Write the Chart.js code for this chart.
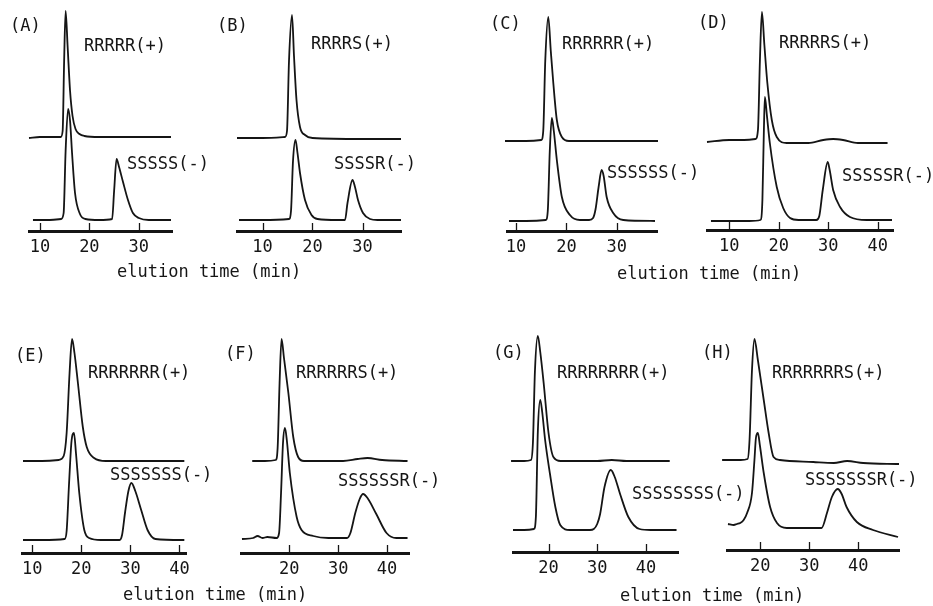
<!DOCTYPE html>
<html>
<head>
<meta charset="utf-8">
<script src="https://cdn.jsdelivr.net/npm/chart.js@4/dist/chart.umd.min.js"></script>
<style>
body { margin: 0; background: #fff; width: 933px; height: 606px; position: relative; overflow: hidden; font-family: "DejaVu Sans Mono", monospace; }
canvas { position: absolute; }
.lbl { position: absolute; font-size: 17px; line-height: 20px; height: 20px; white-space: nowrap; color: #151515; }
</style>
</head>
<body>
<script>
// elution time (min) and detector signal (arbitrary units)
const aTopX = [7.8, 10, 12, 14.2, 14.6, 14.9, 15.2, 15.6, 16.1, 16.6, 17.2, 18, 19, 22, 30, 36.5];
const aTopY = [93, 94, 94, 94, 100, 170, 220, 185, 140, 115, 102, 97, 95, 94, 94, 94];
const aBotX = [8.6, 12, 14.3, 14.8, 15.2, 15.7, 16.1, 16.5, 17.1, 18.1, 19.2, 22, 24.6, 25.0, 25.5, 26.0, 26.8, 27.8, 28.8, 30, 32, 36.5];
const aBotY = [11, 11, 12, 18, 80, 122, 110, 78, 38, 17, 12, 11, 12, 40, 72, 64, 49, 31, 18, 13, 11, 11];

const bTopX = [4.9, 10, 14.5, 14.9, 15.3, 15.9, 16.3, 16.8, 17.5, 18.5, 20, 30, 37.7];
const bTopY = [93, 93, 94, 100, 170, 216, 175, 131, 104, 96, 93, 92, 92];
const bBotX = [5.3, 10, 15.3, 15.7, 16.1, 16.6, 17.0, 17.5, 18.5, 19.8, 21, 25, 26.5, 27.0, 28.0, 28.5, 29.1, 30.1, 31.5, 33, 37.7];
const bBotY = [11, 11, 12, 20, 70, 91, 78, 58, 31, 16, 12, 11, 11, 28, 51, 44, 31, 18, 12, 11, 11];

const cTopX = [7.8, 12, 15.0, 15.4, 15.8, 16.4, 16.9, 17.4, 18.1, 19.1, 20.5, 30, 38.2];
const cTopY = [90, 90, 91, 100, 170, 214, 180, 148, 111, 94, 90, 90, 90];
const cBotX = [8.6, 12, 15.9, 16.3, 16.7, 17.1, 17.5, 18.1, 19.1, 20.7, 22.7, 24.5, 25.3, 25.8, 26.4, 27.0, 27.4, 28.0, 29.3, 31.3, 37.6];
const cBotY = [10, 10, 11, 20, 80, 113, 100, 71, 34, 16, 11, 11, 13, 22, 44, 61, 55, 34, 18, 11, 10];

const dTopX = [5.5, 10, 13, 15.3, 15.8, 16.2, 16.6, 17.1, 17.7, 18.6, 19.6, 21.6, 26, 29, 31, 33, 36, 42];
const dTopY = [88, 90, 90, 91, 100, 170, 218, 185, 147, 110, 93, 87, 87, 90, 91, 90, 87, 87];
const dBotX = [6.3, 10, 14, 16.3, 16.7, 17.0, 17.2, 17.6, 18.2, 19.6, 20.9, 22.3, 24, 27.6, 28.2, 28.9, 29.9, 30.3, 31.0, 32.4, 34.4, 37.8, 42.9];
const dBotY = [9, 9, 9, 10, 30, 100, 133, 115, 87, 43, 22, 12, 10, 10, 14, 40, 68, 60, 40, 23, 13, 10, 10];

const eTopX = [8.1, 12, 15.4, 16.4, 17.0, 17.6, 18.1, 18.6, 19.3, 20.3, 21.1, 22.6, 25, 35, 41.0];
const eTopY = [92, 92, 93, 97, 120, 180, 214, 200, 170, 126, 106, 95, 92, 92, 92];
const eBotX = [8.1, 12, 16.6, 17.0, 17.5, 18.0, 18.5, 18.9, 19.6, 20.6, 21.6, 24, 27.8, 28.3, 28.9, 29.6, 30.2, 31.0, 32.2, 33.5, 35.1, 41.0];
const eBotY = [13, 13, 14, 22, 70, 112, 120, 100, 59, 23, 15, 13, 13, 18, 40, 62, 70, 62, 43, 23, 14, 13];

const fTopX = [12.4, 15, 17.2, 17.6, 18.0, 18.4, 18.9, 19.8, 20.8, 21.8, 23, 31, 34, 36, 39, 44.2];
const fTopY = [92, 92, 93, 105, 170, 214, 195, 160, 116, 96, 92, 92, 94, 95, 93, 92];
const fBotX = [10.3, 12.6, 13.5, 14.5, 15.5, 17.4, 17.9, 18.3, 18.7, 19.1, 19.5, 20.1, 21.5, 22.5, 24.9, 28, 31.8, 32.5, 33.5, 34.4, 35.1, 36.0, 37.8, 39.9, 41.9, 44.2];
const fBotY = [14, 15, 17, 15, 16, 15, 20, 60, 110, 125, 112, 80, 36, 23, 17, 15, 15, 20, 40, 54, 59, 55, 39, 20, 15, 15];

const gTopX = [12.3, 15, 16.4, 16.8, 17.2, 17.8, 18.3, 19.0, 20.0, 21.0, 22.5, 30, 33, 36, 44.9];
const gTopY = [91, 91, 92, 110, 180, 216, 200, 169, 119, 95, 91, 91, 92, 91, 91];
const gBotX = [12.7, 15, 17.0, 17.4, 17.8, 18.3, 18.7, 19.3, 20.3, 21.4, 22.4, 24.4, 28.5, 29.3, 30.0, 30.6, 31.5, 32.8, 33.6, 34.7, 36.4, 38.7, 41, 46.3];
const gBotY = [22, 22, 23, 35, 120, 152, 140, 112, 78, 45, 27, 22, 22, 23, 28, 38, 65, 82, 75, 58, 35, 23, 22, 22];

const hTopX = [12.2, 16, 17.4, 17.8, 18.3, 18.8, 19.5, 20.7, 21.7, 22.7, 24, 30.8, 35, 37.7, 41, 48.3];
const hTopY = [90, 90, 91, 110, 180, 211, 190, 150, 117, 93, 90, 88, 87, 89, 87, 86];
const hBotX = [13.4, 14.6, 15.2, 15.9, 16.6, 17.3, 18.3, 18.8, 19.1, 19.5, 19.9, 20.7, 22.0, 23.4, 25.4, 28, 32.5, 33.6, 34.6, 35.8, 36.6, 37.6, 39.7, 43.0, 48.1];
const hBotY = [26, 25, 26, 27, 30, 37, 57, 90, 112, 117, 105, 77, 43, 27, 22, 22, 22, 37, 53, 61, 56, 43, 28, 20, 13];

// axis ticks per panel
const ticksABC = [10, 20, 30];
const ticksDE = [10, 20, 30, 40];
const ticksFGH = [20, 30, 40];

// trace names
const panelNames = ['(A)', '(B)', '(C)', '(D)', '(E)', '(F)', '(G)', '(H)'];
const plusNames = ['RRRRR(+)', 'RRRRS(+)', 'RRRRRR(+)', 'RRRRRS(+)', 'RRRRRRR(+)', 'RRRRRRS(+)', 'RRRRRRRR(+)', 'RRRRRRRS(+)'];
const minusNames = ['SSSSS(-)', 'SSSSR(-)', 'SSSSSS(-)', 'SSSSSR(-)', 'SSSSSSS(-)', 'SSSSSSR(-)', 'SSSSSSSS(-)', 'SSSSSSSR(-)'];
const xTitle = 'elution time (min)';

// layout: axis left/right, axis line y, top of plot, x range
const panels = [
  { top: [aTopX, aTopY], bot: [aBotX, aBotY], ticks: ticksABC, xmin: 7.8, xmax: 36.7, L: 29, R: 172, Y: 231, T: 4 },
  { top: [bTopX, bTopY], bot: [bBotX, bBotY], ticks: ticksABC, xmin: 4.9, xmax: 37.7, L: 237, R: 401, Y: 231, T: 4 },
  { top: [cTopX, cTopY], bot: [cBotX, cBotY], ticks: ticksABC, xmin: 8.2, xmax: 38.0, L: 507, R: 657, Y: 231, T: 4 },
  { top: [dTopX, dTopY], bot: [dBotX, dBotY], ticks: ticksDE, xmin: 5.5, xmax: 43.1, L: 707, R: 893, Y: 230, T: 4 },
  { top: [eTopX, eTopY], bot: [eBotX, eBotY], ticks: ticksDE, xmin: 7.9, xmax: 41.4, L: 22, R: 188, Y: 553, T: 325 },
  { top: [fTopX, fTopY], bot: [fBotX, fBotY], ticks: ticksFGH, xmin: 10.1, xmax: 44.5, L: 241, R: 409, Y: 553, T: 325 },
  { top: [gTopX, gTopY], bot: [gBotX, gBotY], ticks: ticksFGH, xmin: 12.7, xmax: 46.6, L: 513, R: 678, Y: 552, T: 325 },
  { top: [hTopX, hTopY], bot: [hBotX, hBotY], ticks: ticksFGH, xmin: 13.2, xmax: 48.3, L: 727, R: 899, Y: 550, T: 325 }
];

// text positions: [left, centre y]
const panelPos = [[10, 25], [217, 25], [490, 23], [698, 22], [15, 355], [225, 353], [493, 352], [702, 352]];
const plusPos = [[84, 45], [311, 43], [562, 43], [779, 42], [88, 372], [296, 372], [557, 372], [772, 372]];
const minusPos = [[127, 163], [334, 163], [607, 172], [842, 175], [110, 474], [338, 480], [632, 493], [805, 479]];
const titlePos = [[117, 271], [617, 273], [123, 594], [620, 595]];

const PAD = 8;
const AXIS_H = 34;
const INK = '#151515';

function pts(xs, ys) {
  return xs.map((x, i) => ({ x: x, y: ys[i] }));
}

function addText(txt, x, y) {
  const d = document.createElement('div');
  d.className = 'lbl';
  d.textContent = txt;
  d.style.left = x + 'px';
  d.style.top = (y - 10) + 'px';
  document.body.appendChild(d);
}

// short tick marks standing up from the axis line
const upTicks = {
  id: 'upTicks',
  afterDraw(chart) {
    const sx = chart.scales.x;
    const ctx = chart.ctx;
    const y0 = chart.chartArea.bottom;
    ctx.save();
    ctx.strokeStyle = INK;
    ctx.lineWidth = 1.3;
    sx.ticks.forEach(t => {
      const x = Math.round(sx.getPixelForValue(t.value)) + 0.5;
      ctx.beginPath();
      ctx.moveTo(x, y0);
      ctx.lineTo(x, y0 - 8);
      ctx.stroke();
    });
    ctx.restore();
  }
};

Chart.defaults.font.family = '"DejaVu Sans Mono", monospace';
Chart.defaults.font.size = 17;
Chart.defaults.color = INK;

panels.forEach((p, i) => {
  const cv = document.createElement('canvas');
  const w = p.R - p.L + 2 * PAD;
  const h = p.Y - p.T + AXIS_H;
  cv.width = w;
  cv.height = h;
  cv.style.left = (p.L - PAD) + 'px';
  cv.style.top = p.T + 'px';
  cv.style.width = w + 'px';
  cv.style.height = h + 'px';
  document.body.appendChild(cv);

  const lineStyle = {
    borderColor: INK,
    borderWidth: 1.8,
    pointRadius: 0,
    fill: false,
    cubicInterpolationMode: 'monotone',
    clip: PAD
  };

  new Chart(cv.getContext('2d'), {
    type: 'line',
    data: {
      datasets: [
        Object.assign({ label: plusNames[i], data: pts(p.top[0], p.top[1]) }, lineStyle),
        Object.assign({ label: minusNames[i], data: pts(p.bot[0], p.bot[1]) }, lineStyle)
      ]
    },
    options: {
      responsive: false,
      animation: false,
      devicePixelRatio: 1,
      layout: { padding: { left: PAD, right: PAD, top: 0, bottom: 0 } },
      plugins: { legend: { display: false }, tooltip: { enabled: false } },
      scales: {
        x: {
          type: 'linear',
          min: p.xmin,
          max: p.xmax,
          afterFit: s => { s.height = AXIS_H; },
          afterBuildTicks: s => { s.ticks = p.ticks.map(v => ({ value: v })); },
          border: { display: true, color: INK, width: 3 },
          grid: { display: false, drawTicks: false },
          ticks: { padding: 6, maxRotation: 0, autoSkip: false, color: INK }
        },
        y: { display: false, min: 0, max: p.Y - p.T }
      }
    },
    plugins: [upTicks]
  });

  addText(panelNames[i], panelPos[i][0], panelPos[i][1]);
  addText(plusNames[i], plusPos[i][0], plusPos[i][1]);
  addText(minusNames[i], minusPos[i][0], minusPos[i][1]);
});

titlePos.forEach(pos => addText(xTitle, pos[0], pos[1]));
</script>
</body>
</html>
